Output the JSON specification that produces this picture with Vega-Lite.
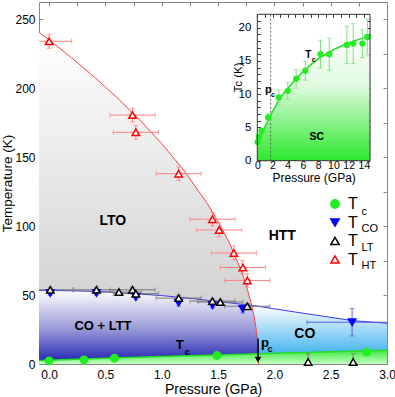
{
  "$schema": "https://vega.github.io/schema/vega-lite/v6.json",
  "width": 348,
  "height": 362,
  "autosize": {"type": "none"},
  "padding": {"left": 39, "top": 2, "right": 8, "bottom": 33},
  "config": {
    "view": {"stroke": "#888", "strokeWidth": 1},
    "font": "Liberation Sans",
    "axis": {"labelFont": "Liberation Sans", "titleFont": "Liberation Sans", "labelColor": "#000", "titleColor": "#000", "tickColor": "#888", "domain": false, "grid": false, "titleFontWeight": "normal"},
    "text": {"font": "Liberation Sans"}
  },
  "datasets": {
    "pts": [
      {"s": "Tc", "p": 0.0, "T": 2.2, "pe": 0, "Te": 0},
      {"s": "Tc", "p": 0.31, "T": 3.0, "pe": 0, "Te": 0},
      {"s": "Tc", "p": 0.58, "T": 4.2, "pe": 0, "Te": 0},
      {"s": "Tc", "p": 1.49, "T": 6.2, "pe": 0, "Te": 0},
      {"s": "Tc", "p": 2.82, "T": 8.6, "pe": 0, "Te": 0},
      {"s": "TCO", "p": 0.01, "T": 51.4, "pe": 0, "Te": 1.5},
      {"s": "TCO", "p": 0.42, "T": 51.5, "pe": 0, "Te": 1.5},
      {"s": "TCO", "p": 0.77, "T": 48.6, "pe": 0, "Te": 2},
      {"s": "TCO", "p": 1.15, "T": 44.5, "pe": 0, "Te": 2.5},
      {"s": "TCO", "p": 1.45, "T": 42.6, "pe": 0, "Te": 2},
      {"s": "TCO", "p": 1.72, "T": 40.0, "pe": 0, "Te": 3},
      {"s": "TCO", "p": 2.69, "T": 30.3, "pe": 0.4, "Te": 10},
      {"s": "TLT", "p": 0.01, "T": 53.8, "pe": 0.2, "Te": 1.5},
      {"s": "TLT", "p": 0.42, "T": 53.8, "pe": 0.2, "Te": 1.5},
      {"s": "TLT", "p": 0.62, "T": 52.1, "pe": 0.2, "Te": 1.5},
      {"s": "TLT", "p": 0.74, "T": 53.8, "pe": 0.2, "Te": 1.5},
      {"s": "TLT", "p": 0.77, "T": 51.0, "pe": 0.2, "Te": 1.5},
      {"s": "TLT", "p": 1.15, "T": 47.8, "pe": 0.2, "Te": 2},
      {"s": "TLT", "p": 1.45, "T": 45.6, "pe": 0.2, "Te": 1.5},
      {"s": "TLT", "p": 1.52, "T": 44.9, "pe": 0.2, "Te": 1.5},
      {"s": "TLT", "p": 1.76, "T": 41.9, "pe": 0.2, "Te": 2},
      {"s": "TLT", "p": 2.3, "T": 1.5, "pe": 0, "Te": 6},
      {"s": "TLT", "p": 2.7, "T": 1.5, "pe": 0, "Te": 6},
      {"s": "THT", "p": 0.0, "T": 234, "pe": 0.2, "Te": 5},
      {"s": "THT", "p": 0.74, "T": 180.5, "pe": 0.2, "Te": 5},
      {"s": "THT", "p": 0.77, "T": 168, "pe": 0.2, "Te": 5},
      {"s": "THT", "p": 1.15, "T": 138, "pe": 0.2, "Te": 5},
      {"s": "THT", "p": 1.45, "T": 105, "pe": 0.2, "Te": 5},
      {"s": "THT", "p": 1.51, "T": 97.2, "pe": 0.2, "Te": 5},
      {"s": "THT", "p": 1.64, "T": 80.5, "pe": 0.2, "Te": 5},
      {"s": "THT", "p": 1.72, "T": 70, "pe": 0.2, "Te": 5},
      {"s": "THT", "p": 1.76, "T": 60.6, "pe": 0.2, "Te": 5}
    ],
    "red": [
      {"p": -0.09, "T": 240.6}, {"p": 0, "T": 235}, {"p": 0.2, "T": 222}, {"p": 0.4, "T": 208.2},
      {"p": 0.6, "T": 193.4}, {"p": 0.8, "T": 177.4}, {"p": 1.0, "T": 159.8}, {"p": 1.2, "T": 140},
      {"p": 1.4, "T": 116.9}, {"p": 1.5, "T": 103.4}, {"p": 1.6, "T": 87.9}, {"p": 1.7, "T": 68.9},
      {"p": 1.75, "T": 57.2}, {"p": 1.8, "T": 42.2}, {"p": 1.82, "T": 34.5}, {"p": 1.84, "T": 24.4},
      {"p": 1.85, "T": 17.2}, {"p": 1.855, "T": 12.2}, {"p": 1.858, "T": 7.7}, {"p": 1.86, "T": 0}
    ],
    "blue": [
      {"p": -0.09, "T": 53.5}, {"p": 0, "T": 53.3}, {"p": 0.25, "T": 53.0}, {"p": 0.5, "T": 52.3},
      {"p": 0.75, "T": 51.0}, {"p": 1.0, "T": 49.6}, {"p": 1.25, "T": 47.6}, {"p": 1.5, "T": 45.3},
      {"p": 1.7, "T": 43.4}, {"p": 1.8, "T": 42.5}, {"p": 2.2, "T": 37.5}, {"p": 2.69, "T": 31.5}, {"p": 3.0, "T": 29.5}
    ],
    "green": [
      {"p": -0.09, "T": 2.5}, {"p": 0, "T": 2.8}, {"p": 0.5, "T": 4.2}, {"p": 1.0, "T": 5.4},
      {"p": 1.5, "T": 6.6}, {"p": 1.86, "T": 7.4}, {"p": 2.5, "T": 8.8}, {"p": 3.0, "T": 10.0}
    ],
    "lto": [
      {"p": -0.09, "T": 240.6, "T2": 53.5}, {"p": 0, "T": 235, "T2": 53.3}, {"p": 0.2, "T": 222, "T2": 53.1},
      {"p": 0.4, "T": 208.2, "T2": 52.6}, {"p": 0.6, "T": 193.4, "T2": 51.9}, {"p": 0.8, "T": 177.4, "T2": 50.8},
      {"p": 1.0, "T": 159.8, "T2": 49.6}, {"p": 1.2, "T": 140, "T2": 48.0}, {"p": 1.4, "T": 116.9, "T2": 46.2},
      {"p": 1.5, "T": 103.4, "T2": 45.3}, {"p": 1.6, "T": 87.9, "T2": 44.4}, {"p": 1.7, "T": 68.9, "T2": 43.4},
      {"p": 1.75, "T": 57.2, "T2": 42.9}, {"p": 1.8, "T": 42.5, "T2": 42.5}
    ],
    "coltt": [
      {"p": -0.09, "T": 53.5, "T2": 2.5}, {"p": 0, "T": 53.3, "T2": 2.8}, {"p": 0.5, "T": 52.3, "T2": 4.2},
      {"p": 1.0, "T": 49.6, "T2": 5.4}, {"p": 1.5, "T": 45.3, "T2": 6.6}, {"p": 1.8, "T": 42.5, "T2": 7.3},
      {"p": 1.82, "T": 34.5, "T2": 7.3}, {"p": 1.84, "T": 24.4, "T2": 7.35}, {"p": 1.85, "T": 17.2, "T2": 7.4},
      {"p": 1.855, "T": 12.2, "T2": 7.4}, {"p": 1.858, "T": 7.4, "T2": 7.4}
    ],
    "co": [
      {"p": 1.8, "T": 42.5, "T2": 42.5}, {"p": 1.82, "T": 42.2, "T2": 34.5}, {"p": 1.84, "T": 42.0, "T2": 24.4},
      {"p": 1.85, "T": 41.9, "T2": 17.2}, {"p": 1.855, "T": 41.8, "T2": 12.2}, {"p": 1.858, "T": 41.8, "T2": 7.4},
      {"p": 2.2, "T": 37.5, "T2": 8.1}, {"p": 2.69, "T": 31.5, "T2": 9.2}, {"p": 3.0, "T": 29.5, "T2": 10.0}
    ],
    "ins": [
      {"p": 0.05, "T": 2.8, "Te": 0}, {"p": 0.2, "T": 3.6, "Te": 0}, {"p": 0.55, "T": 4.5, "Te": 0},
      {"p": 1.43, "T": 6.5, "Te": 0.6}, {"p": 2.82, "T": 9.5, "Te": 1.1}, {"p": 4.0, "T": 10.5, "Te": 1.3},
      {"p": 5.1, "T": 12.3, "Te": 1.4}, {"p": 6.3, "T": 13.5, "Te": 1.4}, {"p": 8.3, "T": 16.0, "Te": 2.1},
      {"p": 9.45, "T": 16.0, "Te": 2.4}, {"p": 11.76, "T": 17.4, "Te": 2.8}, {"p": 12.6, "T": 17.6, "Te": 3.0},
      {"p": 13.8, "T": 17.6, "Te": 2.1}, {"p": 14.45, "T": 18.6, "Te": 2.7}
    ],
    "insfit": [
      {"p": 0, "T": 2.6}, {"p": 0.5, "T": 4.0}, {"p": 1, "T": 5.1}, {"p": 1.5, "T": 6.3}, {"p": 2, "T": 7.4},
      {"p": 3, "T": 9.4}, {"p": 4, "T": 10.9}, {"p": 5, "T": 12.2}, {"p": 6, "T": 13.4}, {"p": 7, "T": 14.4},
      {"p": 8, "T": 15.3}, {"p": 9, "T": 16.0}, {"p": 10, "T": 16.7}, {"p": 11, "T": 17.2}, {"p": 12, "T": 17.7},
      {"p": 13, "T": 18.1}, {"p": 14, "T": 18.5}, {"p": 14.8, "T": 18.8}
    ]
  },
  "resolve": {"scale": {"x": "independent", "y": "independent"}},
  "layer": [
    {
      "layer": [
        {
          "data": {"name": "green"},
          "mark": {"type": "area", "fill": {"gradient": "linear", "x1": 0, "y1": 0, "x2": 0, "y2": 1, "stops": [{"offset": 0, "color": "#3ee83e"}, {"offset": 1, "color": "#c4ffc4"}]}},
          "encoding": {
            "x": {"field": "p", "type": "quantitative", "scale": {"domain": [-0.09, 3.0], "nice": false, "zero": false}, "axis": null},
            "y": {"field": "T", "type": "quantitative", "scale": {"domain": [0, 262.5], "nice": false, "zero": false}, "axis": null},
            "y2": {"datum": 0}
          }
        },
        {
          "data": {"name": "coltt"},
          "mark": {"type": "area", "fill": {"gradient": "linear", "x1": 0, "y1": 0, "x2": 0, "y2": 1, "stops": [{"offset": 0, "color": "#ffffff"}, {"offset": 0.55, "color": "#9a9ad8"}, {"offset": 1, "color": "#2a2ab4"}]}},
          "encoding": {
            "x": {"field": "p", "type": "quantitative", "scale": {"domain": [-0.09, 3.0], "nice": false, "zero": false}, "axis": null},
            "y": {"field": "T", "type": "quantitative", "scale": {"domain": [0, 262.5], "nice": false, "zero": false}, "axis": null},
            "y2": {"field": "T2"}
          }
        },
        {
          "data": {"name": "co"},
          "mark": {"type": "area", "fill": {"gradient": "linear", "x1": 0, "y1": 0, "x2": 0, "y2": 1, "stops": [{"offset": 0, "color": "#ffffff"}, {"offset": 1, "color": "#45b4ee"}]}},
          "encoding": {
            "x": {"field": "p", "type": "quantitative", "scale": {"domain": [-0.09, 3.0], "nice": false, "zero": false}, "axis": null},
            "y": {"field": "T", "type": "quantitative", "scale": {"domain": [0, 262.5], "nice": false, "zero": false}, "axis": null},
            "y2": {"field": "T2"}
          }
        },
        {
          "data": {"name": "lto"},
          "mark": {"type": "area", "fill": {"gradient": "linear", "x1": 0, "y1": 0, "x2": 0, "y2": 1, "stops": [{"offset": 0, "color": "#ffffff"}, {"offset": 1, "color": "#d2d2d2"}]}},
          "encoding": {
            "x": {"field": "p", "type": "quantitative", "scale": {"domain": [-0.09, 3.0], "nice": false, "zero": false}, "axis": null},
            "y": {"field": "T", "type": "quantitative", "scale": {"domain": [0, 262.5], "nice": false, "zero": false}, "axis": null},
            "y2": {"field": "T2"}
          }
        },
        {
          "data": {"name": "red"}, "mark": {"type": "line", "color": "#ff4040", "strokeWidth": 1},
          "encoding": {
            "x": {"field": "p", "type": "quantitative", "scale": {"domain": [-0.09, 3.0], "nice": false, "zero": false}, "axis": null},
            "y": {"field": "T", "type": "quantitative", "scale": {"domain": [0, 262.5], "nice": false, "zero": false}, "axis": null}
          }
        },
        {
          "data": {"name": "blue"}, "mark": {"type": "line", "color": "#3a3ae6", "strokeWidth": 1},
          "encoding": {
            "x": {"field": "p", "type": "quantitative", "scale": {"domain": [-0.09, 3.0], "nice": false, "zero": false}, "axis": null},
            "y": {"field": "T", "type": "quantitative", "scale": {"domain": [0, 262.5], "nice": false, "zero": false}, "axis": null}
          }
        },
        {
          "data": {"name": "green"}, "mark": {"type": "line", "color": "#22dd22", "strokeWidth": 1.5},
          "encoding": {
            "x": {"field": "p", "type": "quantitative", "scale": {"domain": [-0.09, 3.0], "nice": false, "zero": false}, "axis": null},
            "y": {"field": "T", "type": "quantitative", "scale": {"domain": [0, 262.5], "nice": false, "zero": false}, "axis": null}
          }
        },
        {
          "data": {"values": [{}]},
          "mark": {"type": "rule", "color": "#000", "strokeWidth": 1.5},
          "encoding": {"x": {"datum": 1.855, "type": "quantitative", "axis": null}, "y": {"datum": 18.5, "type": "quantitative", "axis": null}, "y2": {"datum": 5}}
        },
        {
          "data": {"values": [{}]},
          "mark": {"type": "point", "shape": "triangle-down", "filled": true, "color": "#000", "size": 45, "opacity": 1},
          "encoding": {"x": {"datum": 1.855, "type": "quantitative", "axis": null}, "y": {"datum": 3.2, "type": "quantitative", "axis": null}}
        },
        {
          "data": {"name": "pts"}, "transform": [{"filter": "datum.s == 'THT' && datum.pe > 0"}],
          "mark": {"type": "errorbar", "ticks": true, "size": 5, "thickness": 1, "color": "#ff8080", "clip": true},
          "encoding": {
            "x": {"field": "p", "type": "quantitative", "scale": {"domain": [-0.09, 3.0], "nice": false, "zero": false}, "axis": null},
            "y": {"field": "T", "type": "quantitative", "scale": {"domain": [0, 262.5], "nice": false, "zero": false}, "axis": null},
            "xError": {"field": "pe"}
          }
        },
        {
          "data": {"name": "pts"}, "transform": [{"filter": "datum.s == 'THT' && datum.Te > 0"}],
          "mark": {"type": "errorbar", "ticks": true, "size": 5, "thickness": 1, "color": "#ff8080", "clip": true},
          "encoding": {
            "x": {"field": "p", "type": "quantitative", "scale": {"domain": [-0.09, 3.0], "nice": false, "zero": false}, "axis": null},
            "y": {"field": "T", "type": "quantitative", "scale": {"domain": [0, 262.5], "nice": false, "zero": false}, "axis": null},
            "yError": {"field": "Te"}
          }
        },
        {
          "data": {"name": "pts"}, "transform": [{"filter": "datum.s == 'TLT' && datum.pe > 0"}],
          "mark": {"type": "errorbar", "ticks": true, "size": 5, "thickness": 1, "color": "#777777", "clip": true},
          "encoding": {
            "x": {"field": "p", "type": "quantitative", "scale": {"domain": [-0.09, 3.0], "nice": false, "zero": false}, "axis": null},
            "y": {"field": "T", "type": "quantitative", "scale": {"domain": [0, 262.5], "nice": false, "zero": false}, "axis": null},
            "xError": {"field": "pe"}
          }
        },
        {
          "data": {"name": "pts"}, "transform": [{"filter": "datum.s == 'TLT' && datum.Te > 0"}],
          "mark": {"type": "errorbar", "ticks": true, "size": 5, "thickness": 1, "color": "#777777", "clip": true},
          "encoding": {
            "x": {"field": "p", "type": "quantitative", "scale": {"domain": [-0.09, 3.0], "nice": false, "zero": false}, "axis": null},
            "y": {"field": "T", "type": "quantitative", "scale": {"domain": [0, 262.5], "nice": false, "zero": false}, "axis": null},
            "yError": {"field": "Te"}
          }
        },
        {
          "data": {"name": "pts"}, "transform": [{"filter": "datum.s == 'TCO' && datum.pe > 0"}],
          "mark": {"type": "errorbar", "ticks": true, "size": 5, "thickness": 1, "color": "#5a5af0", "clip": true},
          "encoding": {
            "x": {"field": "p", "type": "quantitative", "scale": {"domain": [-0.09, 3.0], "nice": false, "zero": false}, "axis": null},
            "y": {"field": "T", "type": "quantitative", "scale": {"domain": [0, 262.5], "nice": false, "zero": false}, "axis": null},
            "xError": {"field": "pe"}
          }
        },
        {
          "data": {"name": "pts"}, "transform": [{"filter": "datum.s == 'TCO' && datum.Te > 0"}],
          "mark": {"type": "errorbar", "ticks": true, "size": 5, "thickness": 1, "color": "#5a5af0", "clip": true},
          "encoding": {
            "x": {"field": "p", "type": "quantitative", "scale": {"domain": [-0.09, 3.0], "nice": false, "zero": false}, "axis": null},
            "y": {"field": "T", "type": "quantitative", "scale": {"domain": [0, 262.5], "nice": false, "zero": false}, "axis": null},
            "yError": {"field": "Te"}
          }
        },
        {
          "data": {"name": "pts"},
          "mark": {"type": "point", "size": 55, "strokeWidth": 1.5, "opacity": 1},
          "encoding": {
            "x": {"field": "p", "type": "quantitative", "scale": {"domain": [-0.09, 3.0], "nice": false, "zero": false}, "axis": null},
            "y": {"field": "T", "type": "quantitative", "scale": {"domain": [0, 262.5], "nice": false, "zero": false}, "axis": null},
            "shape": {"field": "s", "type": "nominal", "scale": {"domain": ["Tc", "TCO", "TLT", "THT"], "range": ["circle", "triangle-down", "triangle-up", "triangle-up"]},
              "legend": {"orient": "none", "legendX": 288, "legendY": 194, "title": null, "labelExpr": "'T'", "labelFontSize": 16, "labelFont": "Liberation Sans", "symbolSize": 70, "symbolStrokeWidth": 1.5, "labelOffset": 5, "rowPadding": 2.5, "padding": 0}},
            "fill": {"field": "s", "type": "nominal", "scale": {"domain": ["Tc", "TCO", "TLT", "THT"], "range": ["#22ee22", "#0000ff", "#ffffff", "#ffffff"]},
              "legend": {"orient": "none", "legendX": 288, "legendY": 194, "title": null, "labelExpr": "'T'", "labelFontSize": 16, "labelFont": "Liberation Sans", "symbolSize": 70, "symbolStrokeWidth": 1.5, "labelOffset": 5, "rowPadding": 2.5, "padding": 0}},
            "stroke": {"field": "s", "type": "nominal", "scale": {"domain": ["Tc", "TCO", "TLT", "THT"], "range": ["#22ee22", "#0000ff", "#000000", "#ff0000"]},
              "legend": {"orient": "none", "legendX": 288, "legendY": 194, "title": null, "labelExpr": "'T'", "labelFontSize": 16, "labelFont": "Liberation Sans", "symbolSize": 70, "symbolStrokeWidth": 1.5, "labelOffset": 5, "rowPadding": 2.5, "padding": 0}}
          }
        },
        {"data": {"values": [{}]}, "mark": {"type": "text", "text": "LTO", "fontSize": 14, "fontWeight": "bold", "align": "center", "baseline": "middle"}, "encoding": {"x": {"datum": 0.566, "type": "quantitative", "axis": null}, "y": {"datum": 103.4, "type": "quantitative", "axis": null}}},
        {"data": {"values": [{}]}, "mark": {"type": "text", "text": "HTT", "fontSize": 14, "fontWeight": "bold", "align": "center", "baseline": "middle"}, "encoding": {"x": {"datum": 2.07, "type": "quantitative", "axis": null}, "y": {"datum": 92.5, "type": "quantitative", "axis": null}}},
        {"data": {"values": [{}]}, "mark": {"type": "text", "text": "CO + LTT", "fontSize": 13, "fontWeight": "bold", "align": "center", "baseline": "middle"}, "encoding": {"x": {"datum": 0.478, "type": "quantitative", "axis": null}, "y": {"datum": 27.2, "type": "quantitative", "axis": null}}},
        {"data": {"values": [{}]}, "mark": {"type": "text", "text": "CO", "fontSize": 14, "fontWeight": "bold", "align": "center", "baseline": "middle"}, "encoding": {"x": {"datum": 2.27, "type": "quantitative", "axis": null}, "y": {"datum": 22.1, "type": "quantitative", "axis": null}}},
        {"data": {"values": [{}]}, "mark": {"type": "text", "text": "T", "fontSize": 13, "fontWeight": "bold", "align": "center", "baseline": "alphabetic"}, "encoding": {"x": {"datum": 1.16, "type": "quantitative", "axis": null}, "y": {"datum": 11.2, "type": "quantitative", "axis": null}}},
        {"data": {"values": [{}]}, "mark": {"type": "text", "text": "c", "fontSize": 9, "fontWeight": "bold", "align": "left", "baseline": "alphabetic"}, "encoding": {"x": {"datum": 1.204, "type": "quantitative", "axis": null}, "y": {"datum": 6.2, "type": "quantitative", "axis": null}}},
        {"data": {"values": [{}]}, "mark": {"type": "text", "text": "p", "fontSize": 13, "fontWeight": "bold", "align": "left", "baseline": "alphabetic"}, "encoding": {"x": {"datum": 1.882, "type": "quantitative", "axis": null}, "y": {"datum": 12.0, "type": "quantitative", "axis": null}}},
        {"data": {"values": [{}]}, "mark": {"type": "text", "text": "c", "fontSize": 9, "fontWeight": "bold", "align": "left", "baseline": "alphabetic"}, "encoding": {"x": {"datum": 1.94, "type": "quantitative", "axis": null}, "y": {"datum": 8.6, "type": "quantitative", "axis": null}}},
        {"data": {"values": [{}]}, "mark": {"type": "text", "text": "c", "fontSize": 11, "align": "left", "baseline": "middle"}, "encoding": {"x": {"datum": 2.774, "type": "quantitative", "axis": null}, "y": {"datum": 110.5, "type": "quantitative", "axis": null}}},
        {"data": {"values": [{}]}, "mark": {"type": "text", "text": "CO", "fontSize": 11, "align": "left", "baseline": "middle"}, "encoding": {"x": {"datum": 2.774, "type": "quantitative", "axis": null}, "y": {"datum": 98.0, "type": "quantitative", "axis": null}}},
        {"data": {"values": [{}]}, "mark": {"type": "text", "text": "LT", "fontSize": 11, "align": "left", "baseline": "middle"}, "encoding": {"x": {"datum": 2.774, "type": "quantitative", "axis": null}, "y": {"datum": 84.0, "type": "quantitative", "axis": null}}},
        {"data": {"values": [{}]}, "mark": {"type": "text", "text": "HT", "fontSize": 11, "align": "left", "baseline": "middle"}, "encoding": {"x": {"datum": 2.774, "type": "quantitative", "axis": null}, "y": {"datum": 71.1, "type": "quantitative", "axis": null}}},
        {
          "data": {"name": "green"},
          "mark": {"type": "point", "opacity": 0},
          "encoding": {
            "x": {"field": "p", "type": "quantitative", "scale": {"domain": [-0.09, 3.0], "nice": false, "zero": false},
              "axis": {"orient": "bottom", "values": [0, 0.25, 0.5, 0.75, 1, 1.25, 1.5, 1.75, 2, 2.25, 2.5, 2.75, 3], "labelExpr": "(datum.value * 2) % 1 == 0 ? format(datum.value, '.1f') : ''", "tickSize": -4, "labelPadding": 9, "labelFontSize": 12, "labelFlush": false, "title": "Pressure (GPa)", "titleFontSize": 14, "titlePadding": 2}},
            "y": {"field": "T", "type": "quantitative", "scale": {"domain": [0, 262.5], "nice": false, "zero": false},
              "axis": {"orient": "left", "values": [0, 25, 50, 75, 100, 125, 150, 175, 200, 225, 250], "labelExpr": "datum.value % 50 == 0 ? datum.label : ''", "tickSize": -4, "labelPadding": 8, "labelFontSize": 12, "labelFlush": false, "title": "Temperature (K)", "titleFontSize": 13.5, "titlePadding": 0}}
          }
        },
        {
          "data": {"name": "green"},
          "mark": {"type": "point", "opacity": 0},
          "encoding": {
            "x": {"field": "p", "type": "quantitative", "scale": {"domain": [-0.09, 3.0], "nice": false, "zero": false},
              "axis": {"orient": "top", "values": [0, 0.25, 0.5, 0.75, 1, 1.25, 1.5, 1.75, 2, 2.25, 2.5, 2.75, 3], "labels": false, "tickSize": -4, "title": null}},
            "y": {"field": "T", "type": "quantitative", "scale": {"domain": [0, 262.5], "nice": false, "zero": false},
              "axis": {"orient": "right", "values": [0, 25, 50, 75, 100, 125, 150, 175, 200, 225, 250], "labels": false, "tickSize": -4, "title": null}}
          }
        }
      ]
    },
    {
      "layer": [
        {
          "data": {"name": "insfit"},
          "mark": {"type": "area", "fill": {"gradient": "linear", "x1": 0, "y1": 0, "x2": 0, "y2": 1, "stops": [{"offset": 0, "color": "#ffffff"}, {"offset": 0.4, "color": "#e0fae0"}, {"offset": 1, "color": "#2ee82e"}]}},
          "encoding": {
            "x": {"field": "p", "type": "quantitative", "scale": {"domain": [0, 14.8], "range": [218.3, 331], "nice": false, "zero": false}, "axis": null},
            "y": {"field": "T", "type": "quantitative", "scale": {"domain": [0, 22], "range": [158.7, 12.3], "nice": false, "zero": false}, "axis": null},
            "y2": {"datum": 0}
          }
        },
        {
          "data": {"values": [{}]},
          "mark": {"type": "rule", "color": "#666", "strokeWidth": 1, "strokeDash": [2, 2]},
          "encoding": {"x": {"datum": 1.75, "type": "quantitative", "axis": null}, "y": {"datum": 0, "type": "quantitative", "axis": null}, "y2": {"datum": 22}}
        },
        {
          "data": {"name": "insfit"}, "mark": {"type": "line", "color": "#22dd22", "strokeWidth": 1.5},
          "encoding": {
            "x": {"field": "p", "type": "quantitative", "scale": {"domain": [0, 14.8], "range": [218.3, 331], "nice": false, "zero": false}, "axis": null},
            "y": {"field": "T", "type": "quantitative", "scale": {"domain": [0, 22], "range": [158.7, 12.3], "nice": false, "zero": false}, "axis": null}
          }
        },
        {
          "data": {"name": "ins"}, "transform": [{"filter": "datum.Te > 0"}],
          "mark": {"type": "errorbar", "ticks": true, "size": 5, "thickness": 1, "color": "#80e080"},
          "encoding": {
            "x": {"field": "p", "type": "quantitative", "scale": {"domain": [0, 14.8], "range": [218.3, 331], "nice": false, "zero": false}, "axis": null},
            "y": {"field": "T", "type": "quantitative", "scale": {"domain": [0, 22], "range": [158.7, 12.3], "nice": false, "zero": false}, "axis": null},
            "yError": {"field": "Te"}
          }
        },
        {
          "data": {"name": "ins"}, "mark": {"type": "point", "filled": true, "color": "#22ee22", "size": 40, "opacity": 1},
          "encoding": {
            "x": {"field": "p", "type": "quantitative", "scale": {"domain": [0, 14.8], "range": [218.3, 331], "nice": false, "zero": false}, "axis": null},
            "y": {"field": "T", "type": "quantitative", "scale": {"domain": [0, 22], "range": [158.7, 12.3], "nice": false, "zero": false}, "axis": null}
          }
        },
        {
          "data": {"values": [{}]},
          "mark": {"type": "rect", "filled": false, "color": "#333", "strokeWidth": 1},
          "encoding": {"x": {"datum": 0, "type": "quantitative", "axis": null}, "x2": {"datum": 14.8}, "y": {"datum": 0, "type": "quantitative", "axis": null}, "y2": {"datum": 22}}
        },
        {"data": {"values": [{}]}, "mark": {"type": "text", "text": "p", "fontSize": 11, "fontWeight": "bold", "align": "center", "baseline": "alphabetic"}, "encoding": {"x": {"datum": 1.45, "type": "quantitative", "axis": null}, "y": {"datum": 10.1, "type": "quantitative", "axis": null}}},
        {"data": {"values": [{}]}, "mark": {"type": "text", "text": "c", "fontSize": 7, "fontWeight": "bold", "align": "left", "baseline": "alphabetic"}, "encoding": {"x": {"datum": 1.8, "type": "quantitative", "axis": null}, "y": {"datum": 9.5, "type": "quantitative", "axis": null}}},
        {"data": {"values": [{}]}, "mark": {"type": "text", "text": "T", "fontSize": 10, "fontWeight": "bold", "align": "center", "baseline": "alphabetic"}, "encoding": {"x": {"datum": 6.7, "type": "quantitative", "axis": null}, "y": {"datum": 15.5, "type": "quantitative", "axis": null}}},
        {"data": {"values": [{}]}, "mark": {"type": "text", "text": "c", "fontSize": 7, "fontWeight": "bold", "align": "left", "baseline": "alphabetic"}, "encoding": {"x": {"datum": 7.15, "type": "quantitative", "axis": null}, "y": {"datum": 14.8, "type": "quantitative", "axis": null}}},
        {"data": {"values": [{}]}, "mark": {"type": "text", "text": "SC", "fontSize": 10.5, "fontWeight": "bold", "align": "center", "baseline": "middle"}, "encoding": {"x": {"datum": 7.8, "type": "quantitative", "axis": null}, "y": {"datum": 3.6, "type": "quantitative", "axis": null}}},
        {
          "data": {"name": "insfit"},
          "mark": {"type": "point", "opacity": 0},
          "encoding": {
            "x": {"field": "p", "type": "quantitative", "scale": {"domain": [0, 14.8], "range": [218.3, 331], "nice": false, "zero": false},
              "axis": {"orient": "bottom", "offset": -203.3, "values": [0, 1, 2, 3, 4, 5, 6, 7, 8, 9, 10, 11, 12, 13, 14], "labelExpr": "datum.value % 2 == 0 ? datum.label : ''", "tickSize": -3, "tickColor": "#333", "labelPadding": 3, "labelFontSize": 10.5, "labelFlush": false, "title": "Pressure  (GPa)", "titleFontSize": 12, "titlePadding": 1.5}},
            "y": {"field": "T", "type": "quantitative", "scale": {"domain": [0, 22], "range": [158.7, 12.3], "nice": false, "zero": false},
              "axis": {"orient": "left", "offset": -218.3, "values": [0, 1, 2, 3, 4, 5, 6, 7, 8, 9, 10, 11, 12, 13, 14, 15, 16, 17, 18, 19, 20, 21], "labelExpr": "datum.value % 5 == 0 ? datum.label : ''", "tickSize": -3, "tickColor": "#333", "labelPadding": 9.5, "labelFontSize": 11.5, "labelFlush": false, "title": "Tc (K)", "titleFontSize": 11.5, "titleX": -13.5, "titleY": 75}}
          }
        },
        {
          "data": {"name": "insfit"},
          "mark": {"type": "point", "opacity": 0},
          "encoding": {
            "x": {"field": "p", "type": "quantitative", "scale": {"domain": [0, 14.8], "range": [218.3, 331], "nice": false, "zero": false},
              "axis": {"orient": "top", "offset": -12.3, "values": [0, 1, 2, 3, 4, 5, 6, 7, 8, 9, 10, 11, 12, 13, 14], "labels": false, "tickSize": -3, "tickColor": "#333", "title": null}},
            "y": {"field": "T", "type": "quantitative", "scale": {"domain": [0, 22], "range": [158.7, 12.3], "nice": false, "zero": false},
              "axis": {"orient": "right", "offset": -17, "values": [0, 1, 2, 3, 4, 5, 6, 7, 8, 9, 10, 11, 12, 13, 14, 15, 16, 17, 18, 19, 20, 21], "labels": false, "tickSize": -3, "tickColor": "#333", "title": null}}
          }
        }
      ]
    }
  ]
}
